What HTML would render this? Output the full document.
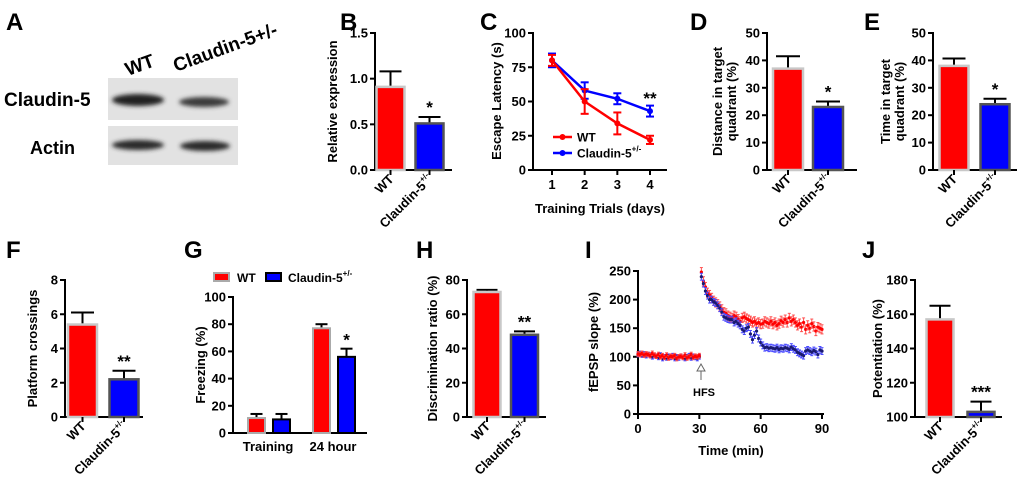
<!DOCTYPE html>
<html><head><meta charset="utf-8"><style>
html,body{margin:0;padding:0;background:#fff;}
svg{display:block;font-family:"Liberation Sans",Arial,sans-serif;font-weight:bold;}
</style></head><body>
<svg id="fig" width="1020" height="485" viewBox="0 0 1020 485" xmlns="http://www.w3.org/2000/svg">
<defs><filter id="blur" x="-20%" y="-50%" width="140%" height="200%"><feGaussianBlur stdDeviation="2.2"/></filter></defs>
<g>
<text x="6" y="30" font-size="24">A</text>
<text x="0" y="0" font-size="19" transform="translate(128,76) rotate(-20)">WT</text>
<text x="0" y="0" font-size="19" transform="translate(176,72) rotate(-20)">Claudin-5+/-</text>
<text x="4" y="106" font-size="19">Claudin-5</text>
<text x="30" y="154" font-size="18">Actin</text>
<rect x="108" y="78" width="130" height="42" fill="#e2e2e2"/>
<rect x="108" y="126" width="130" height="39" fill="#e2e2e2"/>
<ellipse cx="138" cy="100" rx="26" ry="6" fill="#222" filter="url(#blur)"/>
<ellipse cx="204" cy="102" rx="25" ry="5" fill="#3a3a3a" filter="url(#blur)"/>
<ellipse cx="138" cy="145" rx="26" ry="5" fill="#2a2a2a" filter="url(#blur)"/>
<ellipse cx="205" cy="146" rx="25" ry="5" fill="#2a2a2a" filter="url(#blur)"/>
</g>
<text x="340" y="30" font-size="24">B</text>
<text x="480" y="30" font-size="24">C</text>
<text x="690" y="30" font-size="24">D</text>
<text x="864" y="30" font-size="24">E</text>
<text x="6" y="258" font-size="24">F</text>
<text x="184" y="258" font-size="24">G</text>
<text x="416" y="258" font-size="24">H</text>
<text x="585" y="258" font-size="24">I</text>
<text x="862" y="258" font-size="24">J</text>
</svg>
<script>
// ---- data ----
const bCats=["WT","Claudin-5"]; const bValues=[0.91,0.51]; const bErrors=[0.17,0.07];
const cDays=[1,2,3,4];
const cWT=[80,50,34,22]; const cWTErr=[4,9,8,3];
const cCl=[80,58,52,43]; const cClErr=[5,6,4,4];
const dValues=[37,23]; const dErrors=[4.5,2];
const eValues=[38,24]; const eErrors=[2.7,2];
const fValues=[5.4,2.2]; const fErrors=[0.7,0.5];
const gGroups=["Training","24 hour"];
const gWT=[11,77]; const gWTErr=[3,3];
const gCl=[10,56]; const gClErr=[4,6];
const hValues=[73,48]; const hErrors=[1.2,2];
const jValues=[157,103]; const jErrors=[8,6];
const iWTBase=[105,104,106,103,105,104,102,106,103,101,104,100,102,99,103,98,101,100,102,97,100,101,99,103,98,100,104,99,101,100,102];
const iClBase=[104,106,103,105,102,104,103,100,102,101,99,103,97,100,98,101,99,102,97,100,98,101,99,97,100,102,98,101,99,97,100];
const iWTPost=[248,232,222,212,208,203,198,195,192,188,183,178,176,172,170,168,172,170,166,162,168,170,167,165,163,160,162,158,160,157,158,162,160,158,162,157,160,155,158,163,160,165,160,168,162,165,160,155,158,152,160,148,155,150,158,153,145,152,150,148];
const iClPost=[240,228,215,207,200,200,196,194,190,185,178,170,168,166,165,165,160,162,158,155,148,145,150,152,140,130,138,145,132,125,120,116,117,115,116,115,114,116,113,115,114,116,115,113,117,114,112,108,106,104,102,110,112,110,108,111,109,104,112,110];
const iWTErr=8, iClErr=6, iBaseErr=4;

const NS="http://www.w3.org/2000/svg";
const svg=document.getElementById('fig');
function el(tag,attrs,parent,text){const e=document.createElementNS(NS,tag);for(const k in attrs)e.setAttribute(k,attrs[k]);if(text!==undefined)e.textContent=text;(parent||svg).appendChild(e);return e;}
function lin(d0,d1,r0,r1){return v=>r0+(v-d0)/(d1-d0)*(r1-r0);}

function yAxis(g,x,y,ticks,fmt,top,bot){
  const ax=el('line',{x1:x,y1:top-1,x2:x,y2:bot+1,stroke:'#000','stroke-width':2},g);
  
  
  ticks.forEach(t=>{
    el('line',{x1:x-5,y1:y(t),x2:x,y2:y(t),stroke:'#000','stroke-width':2},g);
    const tl=el('text',{x:x-7,y:y(t)+4.5,'font-size':13,'text-anchor':'end'},g,fmt(t));
    
    
  });
}
function yTitle(g,lines,cx,cy){
  lines.forEach((l,i)=>{
    const t=el('text',{x:0,y:0,'font-size':13,'text-anchor':'middle',transform:`translate(${cx+i*14},${cy}) rotate(-90)`},g,l);
    
    
  });
}
function rotLabel(g,x,y,sup,label){
  const t=el('text',{x:0,y:0,'font-size':13,'text-anchor':'end',transform:`translate(${x},${y}) rotate(-45)`},g);
  
  
  if(sup){t.appendChild(document.createTextNode('Claudin-5'));const s=el('tspan',{'font-size':8,dy:-6},t,'+/-');}
  else t.textContent=label;
}
function errBar(g,x,yv,ye,cw,color){
  el('line',{x1:x,y1:yv,x2:x,y2:ye,stroke:color||'#000','stroke-width':2},g);
  el('line',{x1:x-cw,y1:ye,x2:x+cw,y2:ye,stroke:color||'#000','stroke-width':2},g);
}
function barChart(o){
  const g=el('g',{});
  
  
  const y=lin(o.vmin,o.vmax,o.bot,o.top);
  yAxis(g,o.ax,y,o.ticks,o.fmt,o.top,o.bot);
  const xa=el('line',{x1:o.ax-1,y1:o.bot,x2:o.xEnd,y2:o.bot,stroke:'#000','stroke-width':2},g);
  
  
  const fills=['#ff0000','#0000ff'], strokes=['#c8c8c8','#555'];
  o.values.forEach((v,i)=>{
    const cx=o.x0+i*o.step;
    errBar(g,cx,y(v),y(v+o.errors[i]),o.bw/2-3);
    const r=el('rect',{x:cx-o.bw/2,y:y(v),width:o.bw,height:o.bot-y(v),fill:fills[i],stroke:strokes[i],'stroke-width':2.5},g);
    
    
    el('line',{x1:cx,y1:o.bot,x2:cx,y2:o.bot+5,stroke:'#000','stroke-width':2},g);
    rotLabel(g,cx+4,o.bot+10,i===1,'WT');
    if(i===1&&o.stars){
      const s=el('text',{x:cx,y:y(v+o.errors[i])-4,'font-size':17,'text-anchor':'middle'},g,o.stars);
      
      
    }
  });
  yTitle(g,o.ylab,o.ylx,(o.top+o.bot)/2);
}
barChart({name:'panel-b-chart',ax:375,top:33,bot:170,vmin:0,vmax:1.5,ticks:[0,0.5,1,1.5],fmt:t=>t.toFixed(1),values:bValues,errors:bErrors,x0:390.5,step:39,bw:28,xEnd:452,stars:'*',ylab:['Relative expression'],ylx:337});
barChart({name:'panel-d-chart',ax:767,top:33,bot:170,vmin:0,vmax:50,ticks:[0,10,20,30,40,50],fmt:t=>t,values:dValues,errors:dErrors,x0:788,step:40,bw:30,xEnd:857,stars:'*',ylab:['Distance in target','quadrant (%)'],ylx:722});
barChart({name:'panel-e-chart',ax:933,top:33,bot:170,vmin:0,vmax:50,ticks:[0,10,20,30,40,50],fmt:t=>t,values:eValues,errors:eErrors,x0:954,step:41,bw:29,xEnd:1017,stars:'*',ylab:['Time in target','quadrant (%)'],ylx:890});
barChart({name:'panel-f-chart',ax:65,top:280,bot:417,vmin:0,vmax:8,ticks:[0,2,4,6,8],fmt:t=>t,values:fValues,errors:fErrors,x0:82.5,step:41.5,bw:29,xEnd:143,stars:'**',ylab:['Platform crossings'],ylx:37});
barChart({name:'panel-h-chart',ax:467,top:280,bot:417,vmin:0,vmax:80,ticks:[0,20,40,60,80],fmt:t=>t,values:hValues,errors:hErrors,x0:487,step:37.5,bw:27,xEnd:546,stars:'**',ylab:['Discrimination ratio (%)'],ylx:437});
barChart({name:'panel-j-chart',ax:915,top:280,bot:417,vmin:100,vmax:180,ticks:[100,120,140,160,180],fmt:t=>t,values:jValues,errors:jErrors,x0:940,step:41,bw:27,xEnd:1002,stars:'***',ylab:['Potentiation (%)'],ylx:882});

// Panel C
(function(){
  const g=el('g',{});
  
  
  const y=lin(0,100,170,33), x=lin(1,4,552,650);
  yAxis(g,533,y,[0,25,50,75,100],t=>t,33,170);
  const xa=el('line',{x1:532,y1:170,x2:667,y2:170,stroke:'#000','stroke-width':2},g);
  
  
  cDays.forEach(d=>{
    el('line',{x1:x(d),y1:170,x2:x(d),y2:175,stroke:'#000','stroke-width':2},g);
    const t=el('text',{x:x(d),y:189,'font-size':13,'text-anchor':'middle'},g,d);
    
    
  });
  const xt=el('text',{x:600,y:213,'font-size':13,'text-anchor':'middle'},g,'Training Trials (days)');
  
  
  yTitle(g,['Escape Latency (s)'],501,101);
  [[cCl,cClErr,'#0000ff','series-claudin'],[cWT,cWTErr,'#ff0000','series-wt']].forEach(([vals,errs,c,n])=>{
    const p=el('polyline',{points:vals.map((v,i)=>x(cDays[i])+','+y(v)).join(' '),fill:'none',stroke:c,'stroke-width':2.5},g);
    
    
    vals.forEach((v,i)=>{
      el('line',{x1:x(cDays[i]),y1:y(v-errs[i]),x2:x(cDays[i]),y2:y(v+errs[i]),stroke:c,'stroke-width':2},g);
      el('line',{x1:x(cDays[i])-4,y1:y(v-errs[i]),x2:x(cDays[i])+4,y2:y(v-errs[i]),stroke:c,'stroke-width':2},g);
      el('line',{x1:x(cDays[i])-4,y1:y(v+errs[i]),x2:x(cDays[i])+4,y2:y(v+errs[i]),stroke:c,'stroke-width':2},g);
      const m=el('circle',{cx:x(cDays[i]),cy:y(v),r:3,fill:c},g);
      
      
    });
  });
  const s=el('text',{x:650,y:104,'font-size':17,'text-anchor':'middle'},g,'**');
  
  
  [['WT','#ff0000',137,false],['Claudin-5','#0000ff',153,true]].forEach(([l,c,yy,sup])=>{
    const lg=el('g',{},g);
    
    
    el('line',{x1:553,y1:yy,x2:572,y2:yy,stroke:c,'stroke-width':2.5},lg);
    el('circle',{cx:562.5,cy:yy,r:3,fill:c},lg);
    const t=el('text',{x:577,y:yy+4.5,'font-size':12},lg,l);
    if(sup)el('tspan',{'font-size':8,dy:-6},t,'+/-');
  });
})();

// Panel G
(function(){
  const g=el('g',{});
  
  
  const y=lin(0,100,433,297);
  yAxis(g,233,y,[0,20,40,60,80,100],t=>t,297,433);
  const xa=el('line',{x1:232,y1:433,x2:367,y2:433,stroke:'#000','stroke-width':2},g);
  
  
  const gx=i=>269+i*65;
  gGroups.forEach((name,i)=>{
    [[gWT,gWTErr,'#ff0000','#aaa',-12.5],[gCl,gClErr,'#0000ff','#000',12.5]].forEach(([vals,errs,f,s,off],k)=>{
      const cx=gx(i)+off, v=vals[i];
      errBar(g,cx,y(v),y(v+errs[i]),6);
      const r=el('rect',{x:cx-8.5,y:y(v),width:17,height:433-y(v),fill:f,stroke:s,'stroke-width':2},g);
      
      
    });
    const t=el('text',{x:gx(i)-1,y:451,'font-size':13,'text-anchor':'middle'},g,name);
    
    
  });
  const s=el('text',{x:gx(1)+12.5,y:y(gCl[1]+gClErr[1])-3,'font-size':17,'text-anchor':'middle'},g,'*');
  
  
  yTitle(g,['Freezing (%)'],205,365);
  const l1=el('g',{},g);
  
  
  el('rect',{x:214,y:273,width:15,height:8,fill:'#ff0000',stroke:'#aaa','stroke-width':2},l1);
  el('text',{x:237,y:282,'font-size':12},l1,'WT');
  const l2=el('g',{},g);
  
  
  el('rect',{x:266,y:273,width:15,height:8,fill:'#0000ff',stroke:'#000','stroke-width':2},l2);
  const t=el('text',{x:288,y:282,'font-size':12},l2,'Claudin-5');
  el('tspan',{'font-size':8,dy:-6},t,'+/-');
})();

// Panel I
(function(){
  const g=el('g',{});
  
  
  const y=lin(0,250,414,271), x=lin(0,90,638,822);
  yAxis(g,638,y,[0,50,100,150,200,250],t=>t,271,414);
  const xa=el('line',{x1:637,y1:414,x2:824,y2:414,stroke:'#000','stroke-width':2},g);
  
  
  [0,30,60,90].forEach(t=>{
    el('line',{x1:x(t),y1:414,x2:x(t),y2:419,stroke:'#000','stroke-width':2},g);
    const l=el('text',{x:x(t),y:433,'font-size':13,'text-anchor':'middle'},g,t);
    
    
  });
  const xt=el('text',{x:731,y:455,'font-size':13,'text-anchor':'middle'},g,'Time (min)');
  
  
  yTitle(g,['fEPSP slope (%)'],598,342);
  function series(vals,t0,err,mc,ec,name){
    const sg=el('g',{},g);
    
    
    vals.forEach((v,i)=>{
      const px=x(t0+i);
      el('line',{x1:px,y1:y(v-err),x2:px,y2:y(v+err),stroke:ec,'stroke-width':1},sg);
      el('line',{x1:px-1.5,y1:y(v-err),x2:px+1.5,y2:y(v-err),stroke:ec,'stroke-width':1},sg);
      el('line',{x1:px-1.5,y1:y(v+err),x2:px+1.5,y2:y(v+err),stroke:ec,'stroke-width':1},sg);
      el('circle',{cx:px,cy:y(v),r:1.6,fill:mc},sg);
    });
  }
  series(iClBase,0,iBaseErr,'#1a1a70','#4040ff','series-claudin-baseline');
  series(iWTBase,0,iBaseErr,'#ff0000','#ff4040','series-wt-baseline');
  series(iWTPost,31,iWTErr,'#ff0000','#ff5050','series-wt-post');
  series(iClPost,31,iClErr,'#1a1a70','#4a4aff','series-claudin-post');
  const a=el('g',{},g);
  
  
  el('line',{x1:701,y1:370,x2:701,y2:380,stroke:'#666','stroke-width':1},a);
  el('path',{d:'M697,371 L701,364 L705,371 Z',fill:'#fff',stroke:'#666','stroke-width':1},a);
  el('text',{x:704,y:396,'font-size':11,'text-anchor':'middle'},a,'HFS');
})();
</script>
</body></html>
